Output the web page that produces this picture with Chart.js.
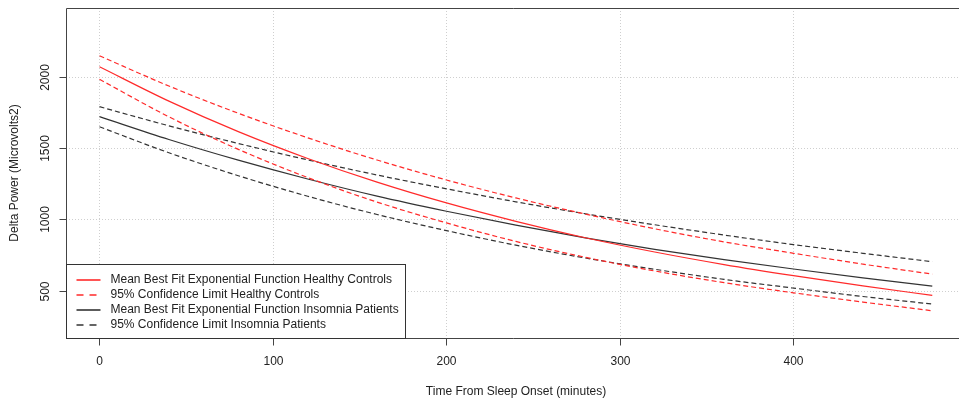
<!DOCTYPE html>
<html><head><meta charset="utf-8">
<script src="https://cdn.jsdelivr.net/npm/chart.js@4.4.1/dist/chart.umd.min.js"></script>
<style>html,body{margin:0;padding:0;background:#fff;}canvas{display:block;}</style>
</head><body>
<canvas id="c" width="959" height="407"></canvas>
<script>
// ---- data ----
const timeMinutes   = [0, 40, 80, 120, 160, 200, 240, 280, 320, 360, 400, 440, 480];
const healthyMean   = [2070, 1829, 1615, 1427, 1261, 1115, 986, 871, 771, 683, 605, 533, 467];
const healthyUpper  = [2147, 1935, 1744, 1572, 1416, 1276, 1150, 1037, 934, 842, 762, 686, 616];
const healthyLower  = [1982, 1719, 1491, 1293, 1121, 975, 845, 734, 638, 556, 485, 420, 359];
const insomniaMean  = [1720, 1560, 1415, 1283, 1163, 1057, 959, 870, 790, 718, 652, 590, 532];
const insomniaUpper = [1790, 1656, 1532, 1417, 1311, 1214, 1123, 1039, 962, 890, 823, 762, 703];
const insomniaLower = [1649, 1467, 1306, 1162, 1034, 921, 819, 729, 650, 579, 518, 459, 406];
const xTicks = [0, 100, 200, 300, 400];
const yTicks = [500, 1000, 1500, 2000];
const xTitle = 'Time From Sleep Onset (minutes)';
const yTitle = 'Delta Power (Microvolts2)';
const legendLabels = [
  'Mean Best Fit Exponential Function Healthy Controls',
  '95% Confidence Limit Healthy Controls',
  'Mean Best Fit Exponential Function Insomnia Patients',
  '95% Confidence Limit Insomnia Patients'
];

const RED = '#ff2a2a', BLACK = '#333333';
const FONT = '12px "Liberation Sans", Arial, sans-serif';
const pts = arr => timeMinutes.map((x, i) => ({x, y: arr[i]}));
const ds = (arr, color, dashed) => ({
  data: pts(arr), borderColor: color, borderWidth: 1.2, pointRadius: 0,
  borderDash: dashed ? [5, 3] : [], cubicInterpolationMode: 'monotone', fill: false
});

const rPlot = {
  id: 'rPlot',
  beforeDatasetsDraw(chart) {
    const {ctx, chartArea: ca, scales: {x, y}} = chart;
    ctx.save();
    ctx.strokeStyle = '#cfcfcf'; ctx.lineWidth = 1; ctx.setLineDash([1, 2]);
    xTicks.forEach(v => { const px = Math.round(x.getPixelForValue(v)) + 0.5;
      ctx.beginPath(); ctx.moveTo(px, ca.top); ctx.lineTo(px, ca.bottom); ctx.stroke(); });
    yTicks.forEach(v => { const py = Math.round(y.getPixelForValue(v)) + 0.5;
      ctx.beginPath(); ctx.moveTo(ca.left, py); ctx.lineTo(ca.right, py); ctx.stroke(); });
    ctx.restore();
  },
  afterDraw(chart) {
    const {ctx, chartArea: ca, scales: {x, y}} = chart;
    ctx.save();
    // box
    ctx.strokeStyle = '#444'; ctx.lineWidth = 1; ctx.setLineDash([]);
    const L = Math.round(ca.left) + 0.5, T = Math.round(ca.top) + 0.5, B = Math.round(ca.bottom) + 0.5;
    ctx.beginPath(); ctx.moveTo(ca.right + 5, T); ctx.lineTo(L, T); ctx.lineTo(L, B); ctx.lineTo(ca.right + 5, B); ctx.stroke();
    // ticks
    ctx.fillStyle = '#222'; ctx.font = FONT;
    xTicks.forEach(v => { const px = Math.round(x.getPixelForValue(v)) + 0.5;
      ctx.beginPath(); ctx.moveTo(px, B); ctx.lineTo(px, B + 7); ctx.stroke();
      ctx.textAlign = 'center'; ctx.textBaseline = 'middle'; ctx.fillText(String(v), px, 362); });
    yTicks.forEach(v => { const py = Math.round(y.getPixelForValue(v)) + 0.5;
      ctx.beginPath(); ctx.moveTo(L - 7, py); ctx.lineTo(L, py); ctx.stroke();
      ctx.save(); ctx.translate(45.5, py); ctx.rotate(-Math.PI / 2);
      ctx.textAlign = 'center'; ctx.textBaseline = 'middle'; ctx.fillText(String(v), 0, 0); ctx.restore(); });
    // titles
    ctx.textAlign = 'center'; ctx.textBaseline = 'middle';
    ctx.fillText(xTitle, 516, 392);
    ctx.save(); ctx.translate(15, (ca.top + ca.bottom) / 2); ctx.rotate(-Math.PI / 2);
    ctx.fillText(yTitle, 0, 0); ctx.restore();
    // legend
    const lw = 339, lh = 74, lx = L, ly = B - lh;
    ctx.fillStyle = '#fff'; ctx.fillRect(lx, ly, lw, lh);
    ctx.strokeStyle = '#333'; ctx.strokeRect(lx, ly, lw, lh);
    const styles = [[RED, false], [RED, true], [BLACK, false], [BLACK, true]];
    legendLabels.forEach((t, i) => {
      const cy = ly + 15.5 + i * 15;
      ctx.strokeStyle = styles[i][0]; ctx.lineWidth = 1.6;
      ctx.setLineDash(styles[i][1] ? [7, 6] : []);
      ctx.beginPath(); ctx.moveTo(lx + 10, cy); ctx.lineTo(lx + 34, cy); ctx.stroke();
      ctx.setLineDash([]);
      ctx.fillStyle = '#222'; ctx.textAlign = 'left'; ctx.textBaseline = 'middle';
      ctx.fillText(t, lx + 44, cy);
    });
    ctx.restore();
  }
};

new Chart(document.getElementById('c'), {
  type: 'line',
  data: { datasets: [
    ds(healthyMean, RED, false), ds(healthyUpper, RED, true), ds(healthyLower, RED, true),
    ds(insomniaMean, BLACK, false), ds(insomniaUpper, BLACK, true), ds(insomniaLower, BLACK, true)
  ]},
  options: {
    responsive: false, animation: false,
    layout: { padding: { top: 8, left: 0, right: 0, bottom: 0 } },
    plugins: { legend: { display: false }, tooltip: { enabled: false } },
    scales: {
      x: { type: 'linear', min: -19.3, max: 495.4,
           ticks: { display: false }, grid: { display: false }, border: { display: false },
           afterFit: s => { s.height = 69; } },
      y: { type: 'linear', min: 168, max: 2482,
           ticks: { display: false }, grid: { display: false }, border: { display: false },
           afterFit: s => { s.width = 66; } }
    }
  },
  plugins: [rPlot]
});
</script>
</body></html>
